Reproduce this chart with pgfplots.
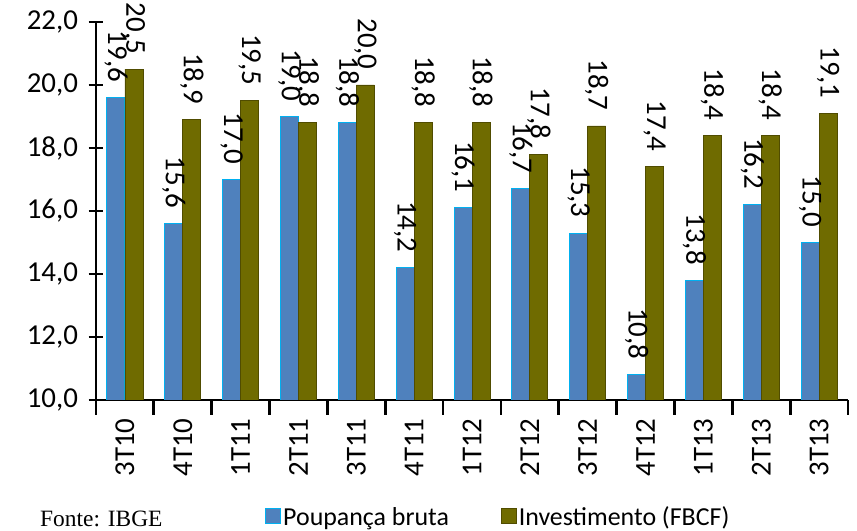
\documentclass[border=0pt]{standalone}
\usepackage{pgfplots}
\pgfplotsset{compat=1.18}
\usepackage{fontspec}
\setmainfont{Carlito}
\newfontfamily\timesf{Liberation Serif}
\definecolor{pblue}{RGB}{79,129,189}
\definecolor{pcyan}{RGB}{0,176,240}
\definecolor{polive}{RGB}{111,107,0}
\definecolor{polivedk}{RGB}{80,76,0}
\begin{document}
\begin{tikzpicture}
\path[use as bounding box] (0,0) rectangle (857bp,531bp);
\begin{axis}[
  at={(96bp,131bp)}, anchor=south west,
  scale only axis, width=752bp, height=378bp,
  ymin=10, ymax=22, ytick={10,12,...,22},
  xmin=-0.5, xmax=12.5,
  xtick={0,...,12},
  xticklabels={3T10,4T10,1T11,2T11,3T11,4T11,1T12,2T12,3T12,4T12,1T13,2T13,3T13},
  minor xtick={-0.5,0.5,...,12.5},
  major x tick style={draw=none},
  tick align=center,
  major tick length=15bp, minor tick length=15bp,
  every tick/.style={black, line width=2.8bp},
  axis lines*=left,
  axis line style={black, line width=2.8bp},
  /pgf/number format/assume math mode=true,
  yticklabel style={/pgf/number format/fixed, /pgf/number format/fixed zerofill, /pgf/number format/precision=1, /pgf/number format/use comma, font=\fontsize{29}{32}\selectfont, xshift=-7bp},
  xticklabel style={font=\fontsize{29}{32}\selectfont, rotate=90, anchor=east},
  ybar=0pt, bar width=18bp,
  nodes near coords={\pgfmathprintnumber[fixed,fixed zerofill,precision=1,use comma]{\pgfplotspointmeta}},
  nodes near coords style={font=\fontsize{29}{32}\selectfont, rotate=-90, anchor=east, inner xsep=15bp, inner ysep=0pt, black},
  legend style={at={(0.535,-0.31)}, anchor=center, draw=none, legend columns=2,
    font=\fontsize{26}{30}\selectfont,
    /tikz/every even column/.append style={column sep=50bp}},
  legend image code/.code={\draw[#1] (0bp,-6bp) rectangle (15bp,9bp);},
]
\addplot[fill=pblue, draw=pcyan, line width=1bp] coordinates {
(0,19.6) (1,15.6) (2,17.0) (3,19.0) (4,18.8) (5,14.2) (6,16.1) (7,16.7) (8,15.3) (9,10.8) (10,13.8) (11,16.2) (12,15.0)};
\addlegendentry{Poupança bruta}
\addplot[fill=polive, draw=polivedk, line width=0.8bp] coordinates {
(0,20.5) (1,18.9) (2,19.5) (3,18.8) (4,20.0) (5,18.8) (6,18.8) (7,17.8) (8,18.7) (9,17.4) (10,18.4) (11,18.4) (12,19.1)};
\addlegendentry{Investimento (FBCF)}
\end{axis}
\node[anchor=base west, inner sep=0pt, font=\timesf\fontsize{23.5}{26}\selectfont] at (40bp,5bp) {Fonte: IBGE};
\end{tikzpicture}
\end{document}
